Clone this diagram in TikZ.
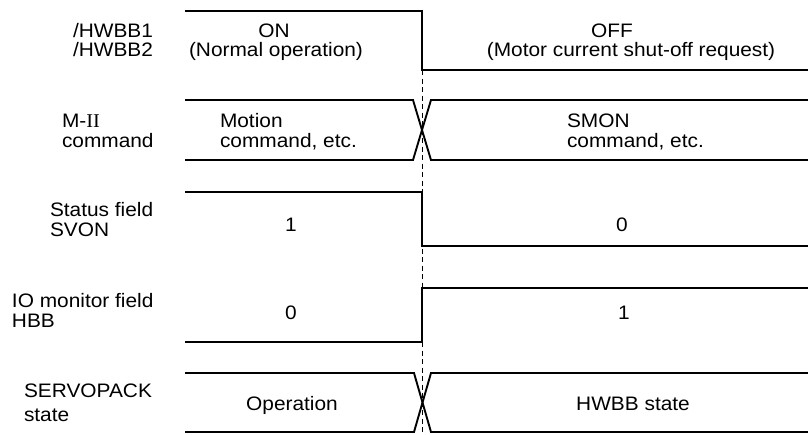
\documentclass[tikz,border=0pt]{standalone}
\usepackage{fontspec}
\setmainfont[FakeStretch=1.07]{Liberation Sans}
\newfontfamily\romanII[FakeStretch=1.05]{Liberation Serif}
\begin{document}
\begin{tikzpicture}[x=1pt,y=-1pt,
  wave/.style={line width=1.9pt,line join=miter},
  guide/.style={line width=0.9pt,dash pattern=on 5pt off 3.5pt},
  txt/.style={inner sep=0pt,outer sep=0pt,font=\fontsize{19.5}{19.5}\selectfont},
  lbl/.style={txt,anchor=base west},
  ctr/.style={txt,anchor=base}]
\useasboundingbox (0,0) rectangle (808,434);
\coordinate (t) at (422,0);
% waveforms
\draw[wave] (185,11) -- (422,11) -- (422,70) -- (808,70);
\draw[wave] (185,100) -- (413,100) -- (431,160) -- (808,160);
\draw[wave] (185,160) -- (413,160) -- (431,100) -- (808,100);
\draw[wave] (185,192) -- (422,192) -- (422,246) -- (808,246);
\draw[wave] (185,342) -- (422,342) -- (422,288) -- (808,288);
\draw[wave] (185,373) -- (414,373) -- (431,432) -- (808,432);
\draw[wave] (185,432) -- (414,432) -- (431,373) -- (808,373);
\draw[guide] (422,70) -- (422,432);
% row labels
\node[lbl] (h1) at (73,37) {/HWBB1};
\node[lbl] (h2) at (73,56) {/HWBB2};
\node[lbl] (m1) at (62,127) {M-{\romanII II}};
\node[lbl] (m2) at (62,147) {command};
\node[lbl] (s1) at (50,216) {Status field};
\node[lbl] (s2) at (50,236) {SVON};
\node[lbl] (i1) at (12,307) {IO monitor field};
\node[lbl] (i2) at (12,327) {HBB};
\node[lbl] (p1) at (24,397) {SERVOPACK};
\node[lbl] (p2) at (24,421) {state};
% contents
\node[ctr] (on) at (274,37) {ON};
\node[ctr] (onx) at (276,56) {(Normal operation)};
\node[ctr] (off) at (612,37) {OFF};
\node[ctr] (offx) at (631,56) {(Motor current shut-off request)};
\node[lbl] (mo1) at (220,127) {Motion};
\node[lbl] (mo2) at (220,147) {command, etc.};
\node[lbl] (sm1) at (567,127) {SMON};
\node[lbl] (sm2) at (567,147) {command, etc.};
\node[ctr] (sv1) at (291,231) {1};
\node[ctr] (sv0) at (622,231) {0};
\node[ctr] (hb0) at (291,319) {0};
\node[ctr] (hb1) at (624,319) {1};
\node[ctr] (op) at (292,410) {Operation};
\node[ctr] (hw) at (633,410) {HWBB state};
\end{tikzpicture}
\end{document}
